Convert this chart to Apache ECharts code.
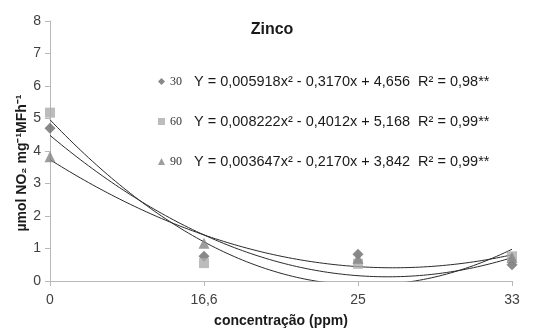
<!DOCTYPE html>
<html>
<head>
<meta charset="utf-8">
<script src="https://cdn.jsdelivr.net/npm/echarts@6/dist/echarts.min.js"></script>
<style>
  html, body { margin: 0; padding: 0; background: #fff; }
  #chart { width: 549px; height: 333px; }
</style>
</head>
<body>
<div id="chart"></div>
<script>
// Zinc concentrations (ppm) shown as evenly spaced categories
const categories = ['0', '16,6', '25', '33'];

// Measured activity for each exposure time
const s30 = [4.70, 0.76, 0.82, 0.50];
const s60 = [5.18, 0.55, 0.53, 0.76];
const s90 = [3.82, 1.16, 0.70, 0.72];

const seriesNames = ['30', '60', '90'];
const equations = [
  'Y = 0,005918x\u00B2 - 0,3170x + 4,656  R\u00B2 = 0,98**',
  'Y = 0,008222x\u00B2 - 0,4012x + 5,168  R\u00B2 = 0,99**',
  'Y = 0,003647x\u00B2 - 0,2170x + 3,842  R\u00B2 = 0,99**'
];

const yMin = 0, yMax = 8, yStep = 1;

// Second-order least-squares fit over the category positions 0..n-1
function quadFit(values) {
  let n = values.length, sx = 0, sx2 = 0, sx3 = 0, sx4 = 0, sy = 0, sxy = 0, sx2y = 0;
  values.forEach((y, x) => {
    sx += x; sx2 += x * x; sx3 += x ** 3; sx4 += x ** 4;
    sy += y; sxy += x * y; sx2y += x * x * y;
  });
  const A = [[n, sx, sx2, sy], [sx, sx2, sx3, sxy], [sx2, sx3, sx4, sx2y]];
  for (let i = 0; i < 3; i++) {
    for (let k = i + 1; k < 3; k++) {
      const f = A[k][i] / A[i][i];
      for (let j = i; j < 4; j++) A[k][j] -= f * A[i][j];
    }
  }
  const c = [0, 0, 0];
  for (let i = 2; i >= 0; i--) {
    let s = A[i][3];
    for (let j = i + 1; j < 3; j++) s -= A[i][j] * c[j];
    c[i] = s / A[i][i];
  }
  return c; // c0 + c1 x + c2 x^2
}

function trendPoints(values) {
  const c = quadFit(values);
  const pts = [];
  const last = values.length - 1;
  for (let i = 0; i <= 120; i++) {
    const x = last * i / 120;
    pts.push([x, c[0] + c[1] * x + c[2] * x * x]);
  }
  return pts;
}

const seriesData = [s30, s60, s90];
const symbols = ['diamond', 'rect', 'triangle'];
const sizes = [11, 10, 11];
const colors = ['#6b6b6b', '#ababab', '#858585'];

const font = '"Liberation Sans", Arial, sans-serif';

const series = [];
seriesData.forEach((vals, k) => {
  series.push({
    name: seriesNames[k] + '_trend',
    type: 'line',
    data: trendPoints(vals),
    showSymbol: false,
    silent: true,
    lineStyle: { color: '#2a2a2a', width: 1 },
    z: 1
  });
});
seriesData.forEach((vals, k) => {
  series.push({
    name: seriesNames[k],
    type: 'scatter',
    symbol: symbols[k],
    symbolSize: sizes[k],
    itemStyle: { color: colors[k] },
    data: vals.map((v, i) => [i, v]),
    z: 2
  });
});

const eqByName = {};
seriesNames.forEach((n, i) => { eqByName[n] = equations[i]; });

const chart = echarts.init(document.getElementById('chart'), null, { renderer: 'canvas' });
chart.setOption({
  animation: false,
  backgroundColor: '#ffffff',
  title: {
    text: 'Zinco',
    left: 267, top: 17,
    textAlign: 'center',
    textStyle: { fontFamily: font, fontSize: 16, fontWeight: 'bold', color: '#1a1a1a' }
  },
  legend: {
    data: seriesNames,
    orient: 'vertical',
    left: 158, top: 74,
    itemWidth: 7, itemHeight: 7,
    itemGap: 25,
    padding: 0,
    selectedMode: false,
    formatter: name => '{n|' + name + '}{e|' + eqByName[name] + '}',
    textStyle: {
      rich: {
        n: { fontFamily: '"Liberation Serif", "Times New Roman", serif', fontSize: 12, color: '#333', width: 24 },
        e: { fontFamily: font, fontSize: 14.5, color: '#1a1a1a' }
      }
    }
  },
  grid: { left: 50, right: 37, top: 21, bottom: 48, containLabel: false },
  xAxis: {
    type: 'value',
    min: 0, max: categories.length - 1, interval: 1,
    name: 'concentração (ppm)',
    nameLocation: 'middle',
    nameGap: 33,
    nameTextStyle: { fontFamily: font, fontSize: 14, fontWeight: 'bold', color: '#1a1a1a' },
    axisLine: { show: true, lineStyle: { color: '#b8b8b8', width: 1 } },
    axisTick: { show: true, length: 5, lineStyle: { color: '#b8b8b8' } },
    splitLine: { show: false },
    axisLabel: {
      formatter: v => categories[v] || '',
      fontFamily: font, fontSize: 14, color: '#404040', margin: 12
    }
  },
  yAxis: {
    type: 'value',
    min: yMin, max: yMax, interval: yStep,
    axisLine: { show: true, lineStyle: { color: '#b8b8b8', width: 1 } },
    axisTick: { show: true, length: 5, lineStyle: { color: '#b8b8b8' } },
    splitLine: { show: false },
    axisLabel: { fontFamily: font, fontSize: 14, color: '#404040', margin: 9 }
  },
  graphic: [{
    type: 'text',
    x: 22, y: 163,
    rotation: Math.PI / 2,
    style: {
      text: 'µmol NO\u2082 mg\u207B\u00B9MFh\u207B\u00B9',
      font: 'bold 14px ' + font,
      fill: '#1a1a1a',
      align: 'center',
      verticalAlign: 'middle'
    }
  }],
  series: series
});
</script>
</body>
</html>
